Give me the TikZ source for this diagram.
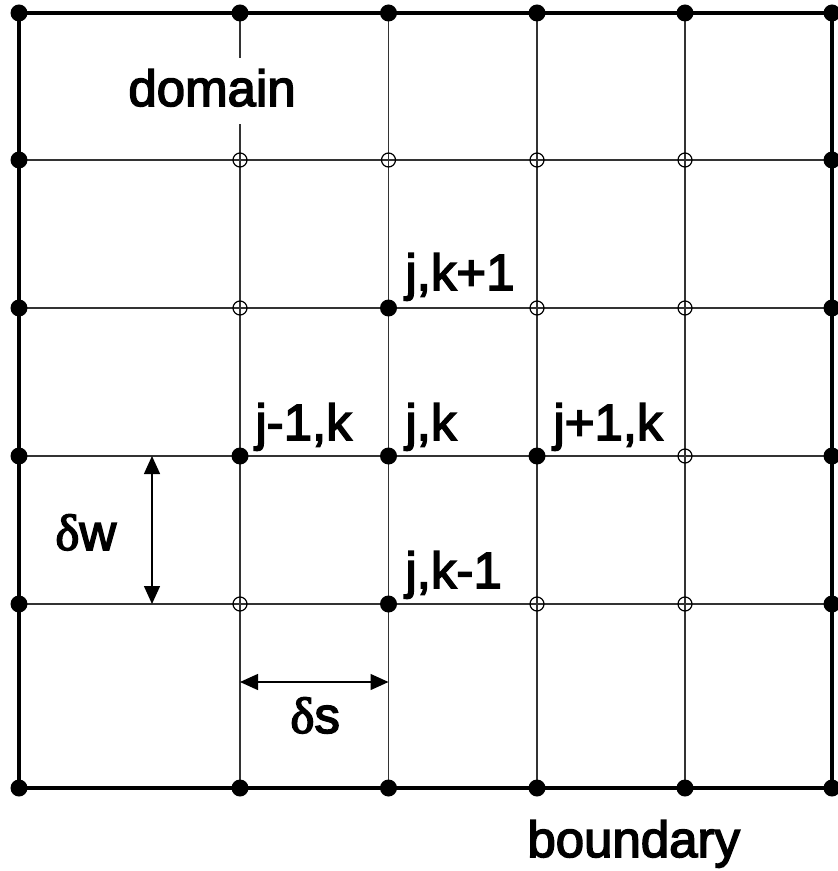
\documentclass[tikz,border=0pt]{standalone}
\usepackage{fontspec}
\setmainfont{Liberation Sans}[FakeBold=3]
\newfontfamily\deltafont{Liberation Serif}[FakeBold=3]
\usetikzlibrary{arrows.meta}
\begin{document}
\begin{tikzpicture}[x=0.5pt,y=-0.5pt,
  gridline/.style={line width=0.7pt, black!80},
  boundline/.style={line width=2pt, black},
  fdot/.style={circle, fill=black, inner sep=0pt, minimum size=8.5pt},
  odot/.style={circle, draw=black, line width=0.6pt, fill=none, inner sep=0pt, minimum size=7pt},
  lbl/.style={anchor=base west, inner sep=0pt, font=\fontsize{25.5}{30}\selectfont},
  dimarrow/.style={line width=0.7pt, black, {Triangle[length=9pt,width=8pt]}-{Triangle[length=9pt,width=8pt]}}
]
\useasboundingbox (0,0) rectangle (837,871);
% grid coordinates
\foreach \x [count=\i] in {19,240,388.5,537,685,832}{
  \foreach \y [count=\j] in {13,160,308,456,604,788}{
    \coordinate (p\i\j) at (\x,\y);
  }
}
% inner grid lines
\foreach \i in {2,...,5}{ \draw[gridline] (p\i1) -- (p\i6); }
\foreach \j in {2,...,5}{ \draw[gridline] (p1\j) -- (p6\j); }
% boundary
\draw[boundline] (p11) rectangle (p66);
% labels
\node[lbl, fill=white, text height=24pt, text depth=9pt] (domain) at (128,106) {domain};
\node[lbl] (boundary) at (527,857) {boundary};
\node[lbl] (ljk1) at (405,290) {j,k+1};
\node[lbl] (ljm1k) at (255,440) {j-1,k};
\node[lbl] (ljk) at (405,440) {j,k};
\node[lbl] (ljp1k) at (553,440) {j+1,k};
\node[lbl] (ljkm1) at (405,588) {j,k-1};
\node[lbl] (ldw) at (55,550) {{\deltafont δ}w};
\node[lbl] (lds) at (290,733) {{\deltafont δ}s};
% dimension arrows
\coordinate (wt) at (152,456);
\coordinate (wb) at (152,604);
\coordinate (sl) at (240,682);
\coordinate (sr) at (388.5,682);
\draw[dimarrow] (wt) -- (wb);
\draw[dimarrow] (sl) -- (sr);
% boundary dots
\foreach \i in {1,...,6}{
  \node[fdot] (dt\i) at (p\i1) {};
  \node[fdot] (db\i) at (p\i6) {};
}
\foreach \j in {2,...,5}{
  \node[fdot] (dl\j) at (p1\j) {};
  \node[fdot] (dr\j) at (p6\j) {};
}
% interior filled dots
\foreach \n in {33,24,34,44,35}{ \node[fdot] (d\n) at (p\n) {}; }
% interior open dots
\foreach \n in {22,32,42,52,23,43,53,54,25,45,55}{ \node[odot] (o\n) at (p\n) {}; }
\end{tikzpicture}
\end{document}
